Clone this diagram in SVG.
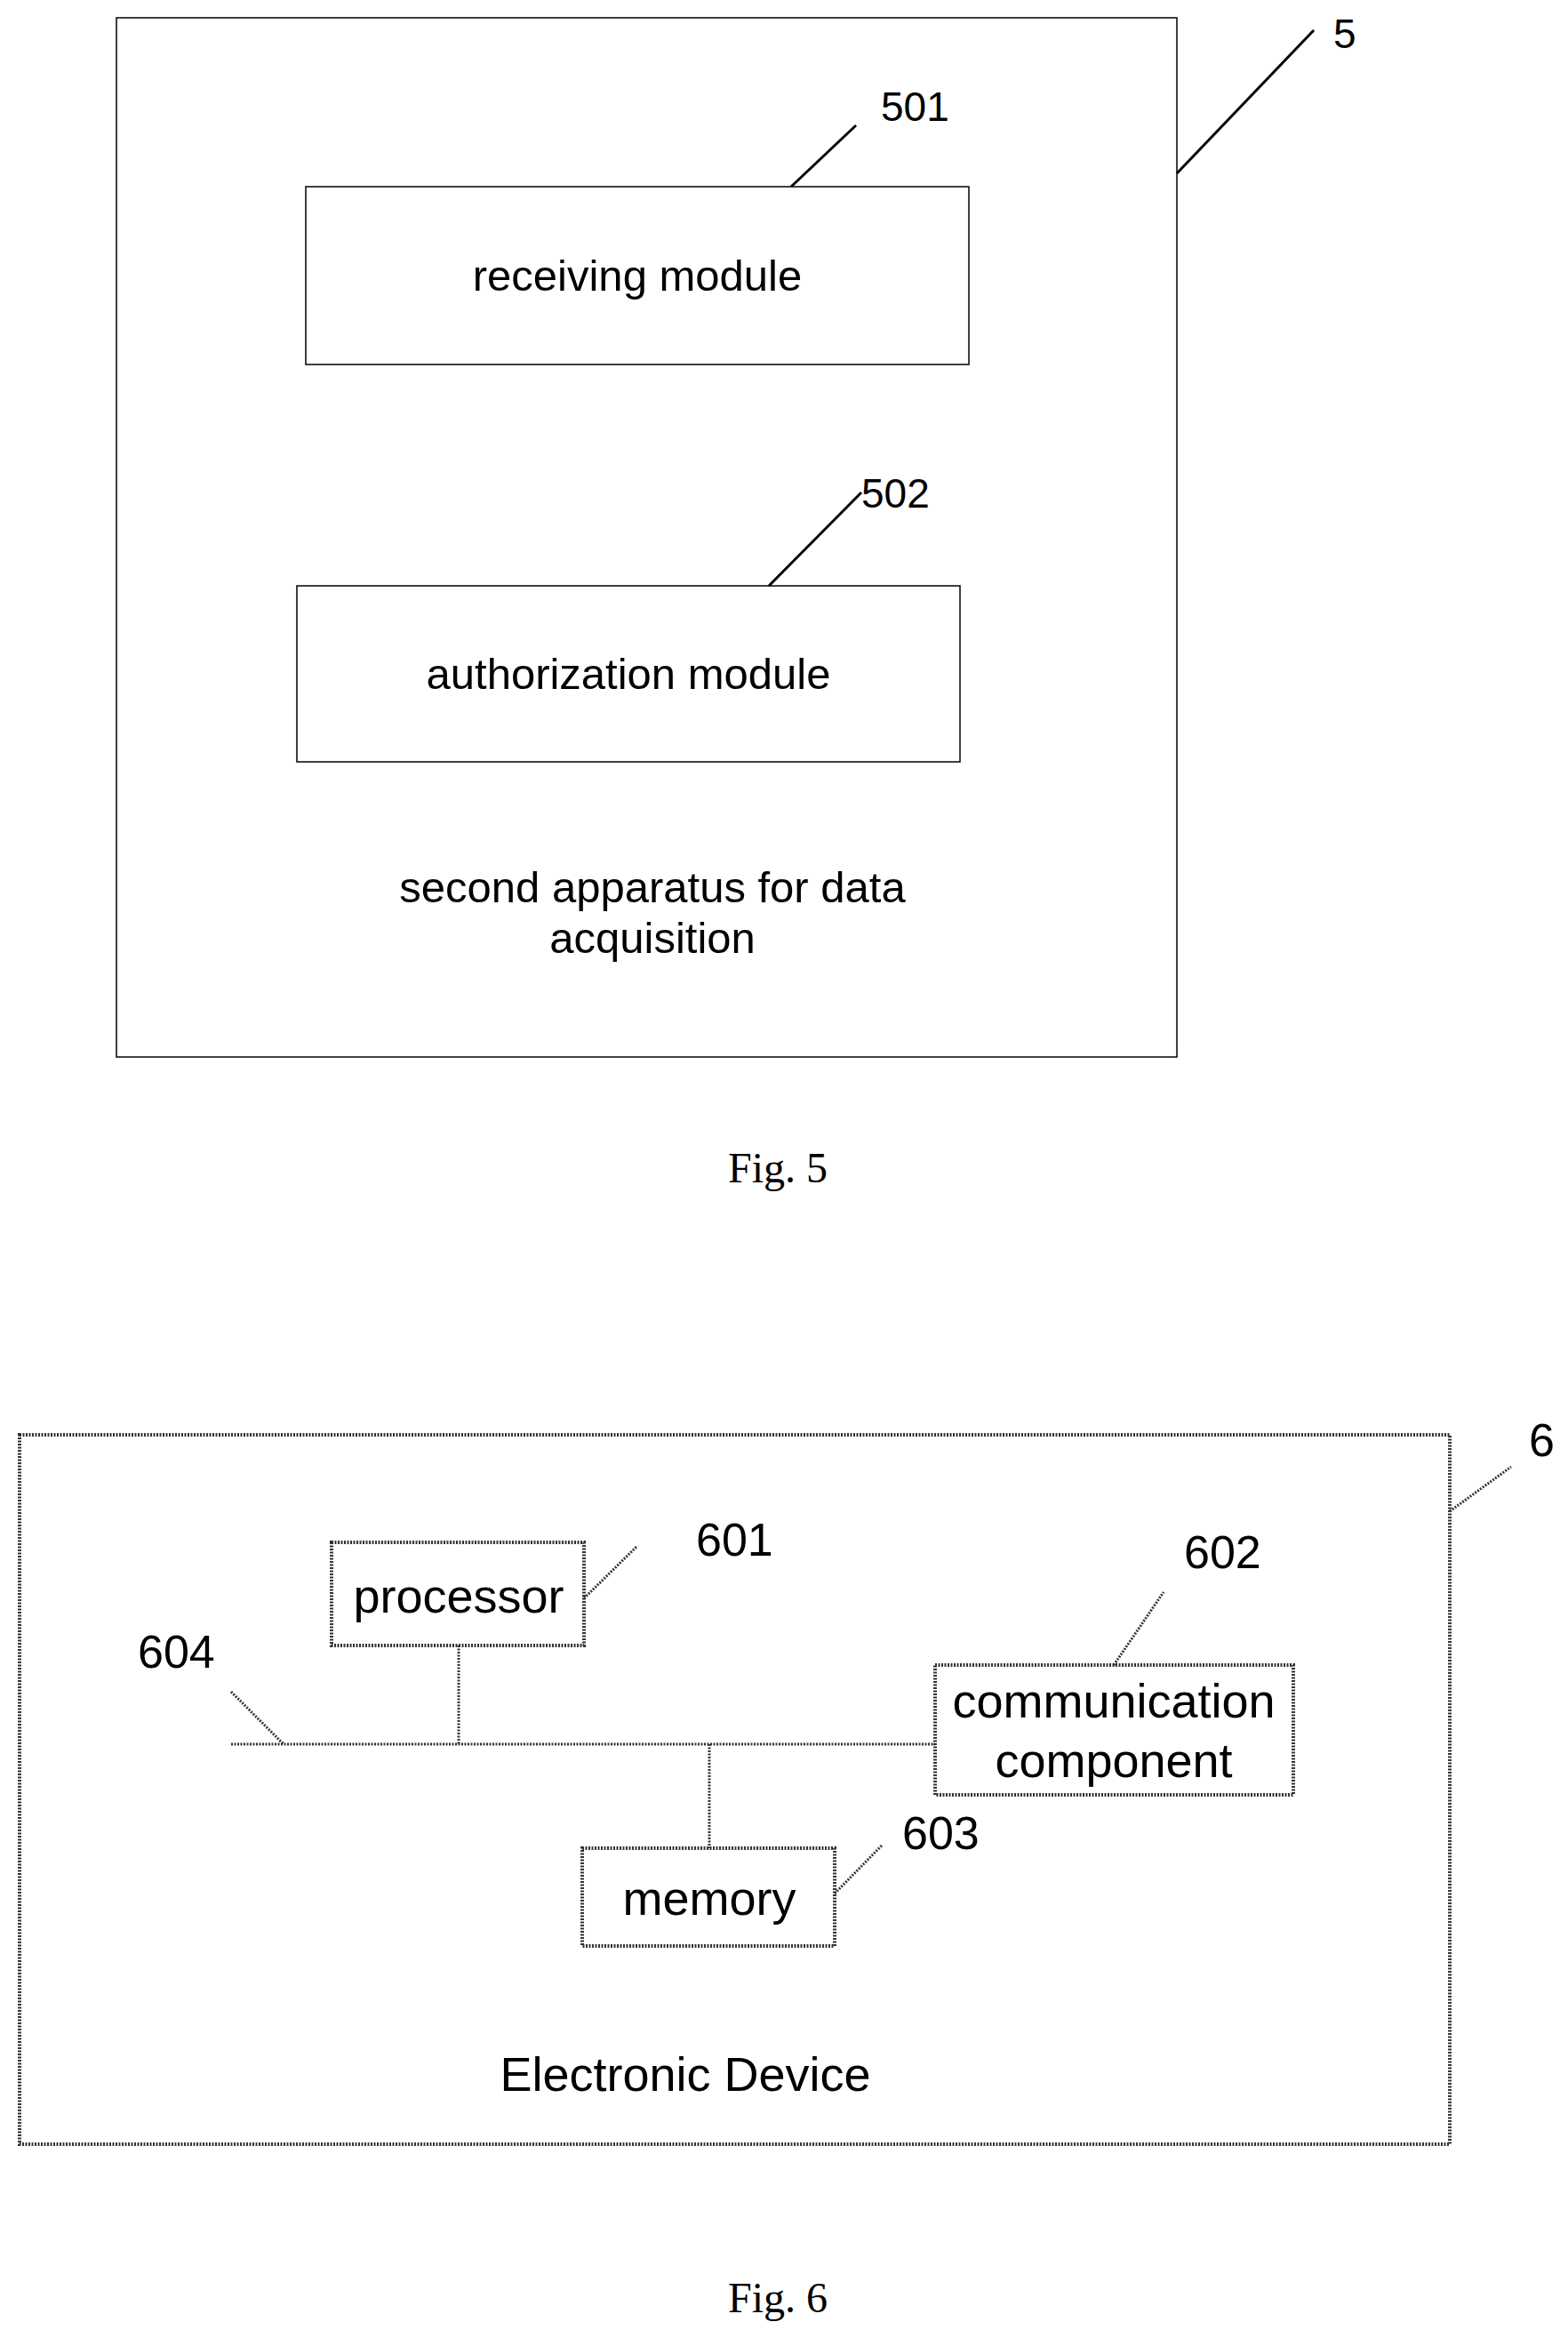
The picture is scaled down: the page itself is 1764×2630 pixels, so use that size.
<svg xmlns="http://www.w3.org/2000/svg" width="1764" height="2630" viewBox="0 0 1764 2630">
<style>
.b{fill:none;stroke:#000;stroke-width:1.5}
.d{fill:none;stroke:#333;stroke-width:4;stroke-dasharray:2,1.5}
.l{stroke:#000;stroke-width:3}
.dl{stroke:#333;stroke-width:3;stroke-dasharray:2,1.5}
.t{font-family:"Liberation Sans",Arial,sans-serif;font-size:49px;fill:#000;text-anchor:middle}
.n{font-family:"Liberation Sans",Arial,sans-serif;font-size:46px;fill:#000}
.t6{font-family:"Liberation Sans",Arial,sans-serif;font-size:54px;fill:#000;text-anchor:middle}
.n6{font-family:"Liberation Sans",Arial,sans-serif;font-size:52px;fill:#000}
.c{font-family:"Liberation Serif","Times New Roman",serif;font-size:48px;fill:#000;text-anchor:middle}
</style>
<g id="apparatus5">
<rect class="b" x="131" y="20" width="1193" height="1169"/>
<text class="t" x="734" y="1015">second apparatus for data</text>
<text class="t" x="734" y="1072">acquisition</text>
<text class="n" x="1500" y="54">5</text>
</g>
<g id="receiving">
<rect class="b" x="344" y="210" width="746" height="200"/>
<text class="t" x="717" y="327">receiving module</text>
<text class="n" x="991" y="136">501</text>
</g>
<g id="authorization">
<rect class="b" x="334" y="659" width="746" height="198"/>
<text class="t" x="707" y="775">authorization module</text>
<text class="n" x="969" y="571">502</text>
</g>
<text class="c" x="875" y="1330">Fig. 5</text>
<g id="device6">
<rect class="d" x="22" y="1614" width="1609" height="798"/>
<text class="t6" x="771" y="2352">Electronic Device</text>
<text class="n6" x="1720" y="1638">6</text>
<text class="n6" x="155" y="1876">604</text>
</g>
<g id="processor">
<rect class="d" x="373" y="1735" width="284" height="116"/>
<text class="t6" x="516" y="1814">processor</text>
<text class="n6" x="783" y="1750">601</text>
</g>
<g id="communication">
<rect class="d" x="1052" y="1873" width="403" height="146"/>
<text class="t6" x="1253" y="1932">communication</text>
<text class="t6" x="1253" y="1999">component</text>
<text class="n6" x="1332" y="1764">602</text>
</g>
<g id="memory">
<rect class="d" x="655" y="2079" width="284" height="110"/>
<text class="t6" x="798" y="2154">memory</text>
<text class="n6" x="1015" y="2080">603</text>
</g>
<text class="c" x="875" y="2601">Fig. 6</text>
<g id="connectors">
<line class="l" x1="1324" y1="195" x2="1478" y2="34"/>
<line class="l" x1="890" y1="210" x2="963" y2="141"/>
<line class="l" x1="865" y1="659" x2="969" y2="554"/>
<line class="dl" x1="1631" y1="1700" x2="1700" y2="1650"/>
<line class="dl" x1="657" y1="1798" x2="717" y2="1739"/>
<line class="dl" x1="1253" y1="1873" x2="1309" y2="1791"/>
<line class="dl" x1="939" y1="2130" x2="993" y2="2075"/>
<line class="dl" x1="260" y1="1903" x2="319" y2="1962"/>
<line class="dl" x1="260" y1="1962" x2="1052" y2="1962"/>
<line class="dl" x1="516" y1="1851" x2="516" y2="1962"/>
<line class="dl" x1="798" y1="1962" x2="798" y2="2079"/>
</g>
</svg>
